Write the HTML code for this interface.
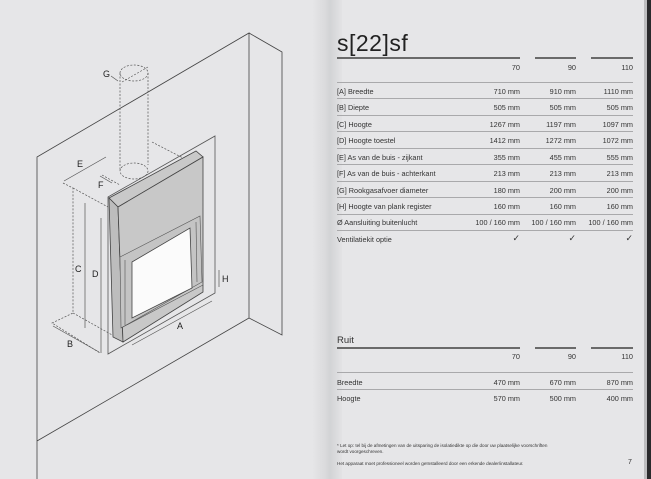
<!DOCTYPE html>
<html><head><meta charset="utf-8"><style>
html,body{margin:0;padding:0}
body{width:651px;height:479px;position:relative;overflow:hidden;background:#e6e6e8;font-family:"Liberation Sans",sans-serif;color:#2a2a2a}
.spine{position:absolute;left:312px;top:0;width:30px;height:479px;background:linear-gradient(90deg,#e6e6e8 0%,#dadadc 45%,#d2d3d5 60%,#e3e3e5 100%)}
.redge{position:absolute;left:644px;top:0;width:3px;height:479px;background:#bdbdbf}
.redge2{position:absolute;left:647px;top:0;width:4px;height:479px;background:#2a2a2c}
.t{position:absolute;font-size:7.3px;white-space:nowrap;color:#333}
.r{text-align:right}
.hl{position:absolute;height:1.5px;background:#6a6a6a}
.sl{position:absolute;left:337px;width:296px;height:1px;background:#a9a9ab}
h1{position:absolute;left:337px;top:30px;margin:0;font-weight:normal;font-size:23px;letter-spacing:0.5px;color:#222}
</style></head><body>
<div class="spine"></div><div class="redge"></div><div class="redge2"></div>

<svg width="330" height="479" style="position:absolute;left:0;top:0" fill="none" stroke="#444" stroke-width="0.8">
<polyline points="37,479 37,157 249,33 249,318 37,441"/>
<polyline points="249,33 282,52 282,335 249,318"/>
<polygon points="108,197 215,136 215,293 108,354" stroke="#555"/>
<g stroke-dasharray="2,1.5" stroke="#555" stroke-width="0.7">
<ellipse cx="134" cy="73" rx="14" ry="8"/>
<ellipse cx="134" cy="171" rx="14" ry="8"/>
<line x1="120" y1="73" x2="120" y2="171"/><line x1="148" y1="73" x2="148" y2="165"/>
<line x1="122" y1="82" x2="148" y2="67"/>
<line x1="152" y1="142" x2="183" y2="158"/>
<polyline points="63,183 73,188 73,313 52,323 100,353"/>
<line x1="73" y1="188" x2="108" y2="207"/>
<line x1="73" y1="313" x2="114" y2="336"/>
<line x1="102" y1="175" x2="120" y2="185"/>
</g>
<g stroke="#555" stroke-width="0.7">
<line x1="118" y1="81" x2="111" y2="76"/>
<line x1="64" y1="181" x2="106" y2="157"/>
<line x1="100" y1="176" x2="112" y2="183"/>
<line x1="85" y1="203" x2="85" y2="328"/>
<line x1="101" y1="218" x2="101" y2="353"/>
<line x1="53" y1="326" x2="99" y2="352"/>
<line x1="132" y1="345" x2="212" y2="301"/>
<line x1="219" y1="270" x2="219" y2="287"/>
</g>
<polygon points="109,198 196,151 203,157 118,207" fill="#c9c9c9" stroke="#444"/>
<polygon points="109,198 118,207 123,342 113,337" fill="#bdbdbd" stroke="#444"/>
<polygon points="118,207 203,157 203,292 123,342" fill="#c8c8c8" stroke="#444"/>
<polygon points="120,257 200,216 202,282 121,328" fill="#c4c4c4" stroke="#555" stroke-width="0.6"/>
<polygon points="132,262 190,228 192,288 132,318" fill="#fbfbfb" stroke="#444"/>
<line x1="125" y1="260" x2="125" y2="325" stroke="#555" stroke-width="0.6"/>
<line x1="196" y1="222" x2="197" y2="282" stroke="#555" stroke-width="0.6"/>
<line x1="121" y1="328" x2="203" y2="285" stroke="#555" stroke-width="0.6"/>
<g font-family="Liberation Sans,sans-serif" font-size="9" fill="#222" stroke="none">
<text x="103" y="77">G</text><text x="77" y="167">E</text><text x="98" y="188">F</text>
<text x="75" y="272">C</text><text x="92" y="277">D</text><text x="222" y="282">H</text>
<text x="177" y="329">A</text><text x="67" y="347">B</text>
</g>
</svg>

<h1>s[22]sf</h1>
<div class="hl" style="left:337px;top:57px;width:183px"></div>
<div class="hl" style="left:535px;top:57px;width:41px"></div>
<div class="hl" style="left:591px;top:57px;width:42px"></div>
<div class="t r" style="left:480px;top:63px;width:40px">70</div>
<div class="t r" style="left:536px;top:63px;width:40px">90</div>
<div class="t r" style="left:593px;top:63px;width:40px">110</div>
<div class="sl" style="top:82px"></div>

<div class="t" style="left:337px;top:87px">[A] Breedte</div><div class="t r" style="left:460px;top:87px;width:60px">710 mm</div><div class="t r" style="left:516px;top:87px;width:60px">910 mm</div><div class="t r" style="left:573px;top:87px;width:60px">1110 mm</div>
<div class="sl" style="top:98px"></div>
<div class="t" style="left:337px;top:103px">[B] Diepte</div><div class="t r" style="left:460px;top:103px;width:60px">505 mm</div><div class="t r" style="left:516px;top:103px;width:60px">505 mm</div><div class="t r" style="left:573px;top:103px;width:60px">505 mm</div>
<div class="sl" style="top:115px"></div>
<div class="t" style="left:337px;top:120px">[C] Hoogte</div><div class="t r" style="left:460px;top:120px;width:60px">1267 mm</div><div class="t r" style="left:516px;top:120px;width:60px">1197 mm</div><div class="t r" style="left:573px;top:120px;width:60px">1097 mm</div>
<div class="sl" style="top:131px"></div>
<div class="t" style="left:337px;top:136px">[D] Hoogte toestel</div><div class="t r" style="left:460px;top:136px;width:60px">1412 mm</div><div class="t r" style="left:516px;top:136px;width:60px">1272 mm</div><div class="t r" style="left:573px;top:136px;width:60px">1072 mm</div>
<div class="sl" style="top:148px"></div>
<div class="t" style="left:337px;top:153px">[E] As van de buis - zijkant</div><div class="t r" style="left:460px;top:153px;width:60px">355 mm</div><div class="t r" style="left:516px;top:153px;width:60px">455 mm</div><div class="t r" style="left:573px;top:153px;width:60px">555 mm</div>
<div class="sl" style="top:164px"></div>
<div class="t" style="left:337px;top:169px">[F] As van de buis - achterkant</div><div class="t r" style="left:460px;top:169px;width:60px">213 mm</div><div class="t r" style="left:516px;top:169px;width:60px">213 mm</div><div class="t r" style="left:573px;top:169px;width:60px">213 mm</div>
<div class="sl" style="top:181px"></div>
<div class="t" style="left:337px;top:186px">[G] Rookgasafvoer diameter</div><div class="t r" style="left:460px;top:186px;width:60px">180 mm</div><div class="t r" style="left:516px;top:186px;width:60px">200 mm</div><div class="t r" style="left:573px;top:186px;width:60px">200 mm</div>
<div class="sl" style="top:197px"></div>
<div class="t" style="left:337px;top:202px">[H] Hoogte van plank register</div><div class="t r" style="left:460px;top:202px;width:60px">160 mm</div><div class="t r" style="left:516px;top:202px;width:60px">160 mm</div><div class="t r" style="left:573px;top:202px;width:60px">160 mm</div>
<div class="sl" style="top:214px"></div>
<div class="t" style="left:337px;top:218px">Ø Aansluiting buitenlucht</div><div class="t r" style="left:450px;top:218px;width:70px">100 / 160 mm</div><div class="t r" style="left:506px;top:218px;width:70px">100 / 160 mm</div><div class="t r" style="left:563px;top:218px;width:70px">100 / 160 mm</div>
<div class="sl" style="top:230px"></div>
<div class="t" style="left:337px;top:235px">Ventilatiekit optie</div><div class="t r" style="left:480px;top:233px;width:40px;font-size:9px">✓</div><div class="t r" style="left:536px;top:233px;width:40px;font-size:9px">✓</div><div class="t r" style="left:593px;top:233px;width:40px;font-size:9px">✓</div>

<div class="t" style="left:337px;top:335px;font-size:9.5px">Ruit</div>
<div class="hl" style="left:337px;top:347px;width:183px"></div>
<div class="hl" style="left:535px;top:347px;width:41px"></div>
<div class="hl" style="left:591px;top:347px;width:42px"></div>
<div class="t r" style="left:480px;top:352px;width:40px">70</div>
<div class="t r" style="left:536px;top:352px;width:40px">90</div>
<div class="t r" style="left:593px;top:352px;width:40px">110</div>
<div class="sl" style="top:372px"></div>
<div class="t" style="left:337px;top:378px">Breedte</div><div class="t r" style="left:460px;top:378px;width:60px">470 mm</div><div class="t r" style="left:516px;top:378px;width:60px">670 mm</div><div class="t r" style="left:573px;top:378px;width:60px">870 mm</div>
<div class="sl" style="top:389px"></div>
<div class="t" style="left:337px;top:394px">Hoogte</div><div class="t r" style="left:460px;top:394px;width:60px">570 mm</div><div class="t r" style="left:516px;top:394px;width:60px">500 mm</div><div class="t r" style="left:573px;top:394px;width:60px">400 mm</div>

<div class="t" style="left:337px;top:443px;font-size:4.6px;line-height:6px">* Let op: tel bij de afmetingen van de uitsparing de isolatiedikte op die door uw plaatselijke voorschriften<br>wordt voorgeschreven.</div>
<div class="t" style="left:337px;top:461px;font-size:4.6px">Het apparaat moet professioneel worden geïnstalleerd door een erkende dealer/installateur.</div>
<div class="t" style="left:628px;top:459px;font-size:7px">7</div>
</body></html>
